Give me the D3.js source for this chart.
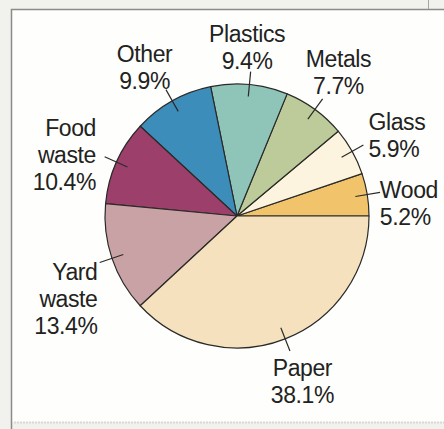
<!DOCTYPE html>
<html>
<head>
<meta charset="utf-8">
<script src="https://cdn.jsdelivr.net/npm/d3@7"></script>
<style>
  html, body { margin: 0; padding: 0; background: #f1f1ed; }
  svg { display: block; }
</style>
</head>
<body>
<svg id="chart" width="444" height="429"></svg>
<script>
// municipal waste by material, % of total
var categories = ["Wood", "Glass", "Metals", "Plastics", "Other", "Food waste", "Yard waste", "Paper"]
var values = [5.2, 5.9, 7.7, 9.4, 9.9, 10.4, 13.4, 38.1]
var labelLines = [["Wood"], ["Glass"], ["Metals"], ["Plastics"], ["Other"], ["Food", "waste"], ["Yard", "waste"], ["Paper"]]
var colors = ["#f1c46c", "#fcf4de", "#bccb99", "#8fc4b8", "#3d8dba", "#9c406b", "#c9a2a6", "#f6e1be"]

var width = 444, height = 429
var cx = 237, cy = 216, R = 132

// hand placement of the labels, relative to a point just outside the pie
var labelNudge = {
  "Wood":       {anchor: "start",  dx: -15, dy: 13},
  "Glass":      {anchor: "start",  dx: -8,  dy: -3},
  "Metals":     {anchor: "middle", dx: 7,   dy: -15},
  "Plastics":   {anchor: "middle", dx: -5,  dy: -10},
  "Other":      {anchor: "middle", dx: -14, dy: -10},
  "Food waste": {anchor: "end",    dx: 5,   dy: 4},
  "Yard waste": {anchor: "end",    dx: 12,  dy: 31},
  "Paper":      {anchor: "middle", dx: 7,   dy: 16}
}

var data = categories.map(function(c, i){
  return {name: c, value: values[i], lines: labelLines[i], color: colors[i]}
})

var svg = d3.select('#chart')

// page frame
svg.append('rect')
  .attr('x', 11).attr('y', 9)
  .attr('width', width - 11).attr('height', 413)
  .attr('fill', '#fefefd')
svg.append('path')
  .attr('d', 'M11.5,' + height + 'V9.5H' + width)
  .attr('fill', 'none')
  .attr('stroke', '#8a8a88')
  .attr('stroke-width', 1.5)
svg.append('line')
  .attr('x1', 428.5).attr('x2', 428.5).attr('y1', 0).attr('y2', 9)
  .attr('stroke', '#a5a5a3')
svg.append('line')
  .attr('x1', 14).attr('x2', width).attr('y1', 422.5).attr('y2', 422.5)
  .attr('stroke', '#d8d8d4').attr('stroke-width', 2).attr('stroke-dasharray', '2,1')

// start at 3 o'clock and go counter-clockwise
var pie = d3.pie()
  .sort(null)
  .value(function(d){ return d.value })
  .startAngle(Math.PI / 2)
  .endAngle(Math.PI / 2 - 2 * Math.PI)

var arc = d3.arc().innerRadius(0).outerRadius(R)
var arcs = pie(data)

var g = svg.append('g').attr('transform', 'translate(' + cx + ',' + cy + ')')

g.selectAll('path.slice')
  .data(arcs)
  .enter()
  .append('path')
  .classed('slice', true)
  .attr('d', arc)
  .attr('fill', function(d){ return d.data.color })
  .attr('stroke', '#2a2a28')
  .attr('stroke-width', 1.2)
  .attr('stroke-linejoin', 'round')

function midAngle(d){ return (d.startAngle + d.endAngle) / 2 }
function polar(r, a){ return [r * Math.sin(a), -r * Math.cos(a)] }

// leader lines
g.selectAll('line.leader')
  .data(arcs)
  .enter()
  .append('line')
  .classed('leader', true)
  .each(function(d){
    var a = midAngle(d), p0 = polar(120, a), p1 = polar(145, a)
    d3.select(this)
      .attr('x1', p0[0]).attr('y1', p0[1])
      .attr('x2', p1[0]).attr('y2', p1[1])
  })
  .attr('stroke', '#2a2a28')
  .attr('stroke-width', 1.2)

// labels
var lineH = 27, capH = 17
var fmt = d3.format(".1f")

g.selectAll('text.label')
  .data(arcs)
  .enter()
  .append('text')
  .classed('label', true)
  .each(function(d){
    var a = midAngle(d), p = polar(160, a), n = labelNudge[d.data.name]
    var lines = d.data.lines.concat([fmt(d.data.value) + '%'])
    var blockH = capH + (lines.length - 1) * lineH
    var x = p[0] + n.dx
    var y0 = p[1] + n.dy - blockH / 2 + capH
    var t = d3.select(this).attr('text-anchor', n.anchor)
    lines.forEach(function(s, i){
      t.append('tspan').attr('x', x).attr('y', y0 + i * lineH).text(s)
    })
  })
  .attr('font-family', '"Liberation Sans", Arial, sans-serif')
  .attr('font-size', 23)
  .attr('letter-spacing', -0.4)
  .attr('fill', '#222220')
</script>
</body>
</html>
